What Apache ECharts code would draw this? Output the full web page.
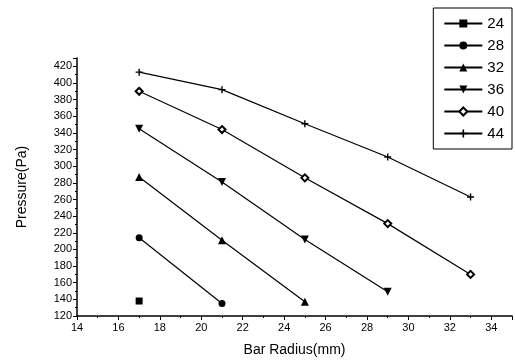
<!DOCTYPE html>
<html><head><meta charset="utf-8">
<script src="https://cdn.jsdelivr.net/npm/echarts@6/dist/echarts.min.js"></script>
<style>html,body{margin:0;padding:0;background:#fff}#c{width:515px;height:363px}</style>
</head><body><div id="c"></div>
<script>
var seriesNames = ['24', '28', '32', '36', '40', '44'];
var xValues = [17, 21, 25, 29, 33];
var s24 = [138];
var s28 = [214, 135];
var s32 = [287, 211, 137];
var s36 = [345, 281, 212, 149];
var s40 = [390, 344, 286, 231, 170];
var s44 = [413, 392, 351, 311, 263];
var allValues = [s24, s28, s32, s36, s40, s44];
var symbols = ['rect', 'circle', 'triangle', 'triangle', 'diamond', 'path://M4,0h2v4h4v2h-4v4h-2v-4h-4v-2h4z'];
var rotates = [0, 0, 0, 180, 0, 0];
var sizes = [7, 7, 8, 8, 7, 7];

var F = 'Liberation Sans, Arial, sans-serif';
var series = seriesNames.map(function (n, i) {
  var vals = allValues[i];
  var hollow = (i === 4);
  return {
    name: n, type: 'line',
    data: vals.map(function (v, j) { return [xValues[j], v]; }),
    symbol: symbols[i], symbolSize: sizes[i], symbolRotate: rotates[i],
    showAllSymbol: true,
    lineStyle: { color: '#000', width: 1.2 },
    itemStyle: { color: hollow ? '#fff' : '#000', borderColor: '#000', borderWidth: hollow ? 2 : 0 },
    emphasis: { disabled: true }
  };
});

var chart = echarts.init(document.getElementById('c'));
chart.setOption({
  animation: false,
  color: ['#000'],
  grid: { left: 77, right: 0, top: 58, bottom: 47 },
  legend: {
    orient: 'vertical', right: 3, top: 8,
    borderColor: '#000', borderWidth: 1,
    padding: [8, 8, 8, 10],
    itemWidth: 38, itemHeight: 10, itemGap: 7,
    textStyle: { fontFamily: F, fontSize: 15, color: '#000' },
    data: seriesNames
  },
  xAxis: {
    type: 'value', min: 14, max: 35, interval: 2,
    name: 'Bar Radius(mm)', nameLocation: 'middle', nameGap: 27,
    nameTextStyle: { fontFamily: F, fontSize: 14, color: '#000' },
    axisLine: { lineStyle: { color: '#000', width: 1.5 } },
    axisTick: { show: true, length: 4, lineStyle: { color: '#000' } },
    minorTick: { show: true, splitNumber: 2, length: 2, lineStyle: { color: '#000' } },
    splitLine: { show: false },
    axisLabel: { fontFamily: F, fontSize: 11, color: '#000', margin: 6,
      formatter: function (v) { return v > 34 ? '' : v; } }
  },
  yAxis: {
    type: 'value', min: 120, max: 430, interval: 20,
    name: 'Pressure(Pa)', nameLocation: 'middle', nameGap: 48,
    nameTextStyle: { fontFamily: F, fontSize: 14, color: '#000' },
    axisLine: { lineStyle: { color: '#000', width: 1.5 } },
    axisTick: { show: true, length: 4, lineStyle: { color: '#000' } },
    minorTick: { show: true, splitNumber: 2, length: 2, lineStyle: { color: '#000' } },
    splitLine: { show: false },
    axisLabel: { fontFamily: F, fontSize: 11, color: '#000', margin: 5,
      formatter: function (v) { return v > 420 ? '' : v; } }
  },
  series: series
});
</script></body></html>
